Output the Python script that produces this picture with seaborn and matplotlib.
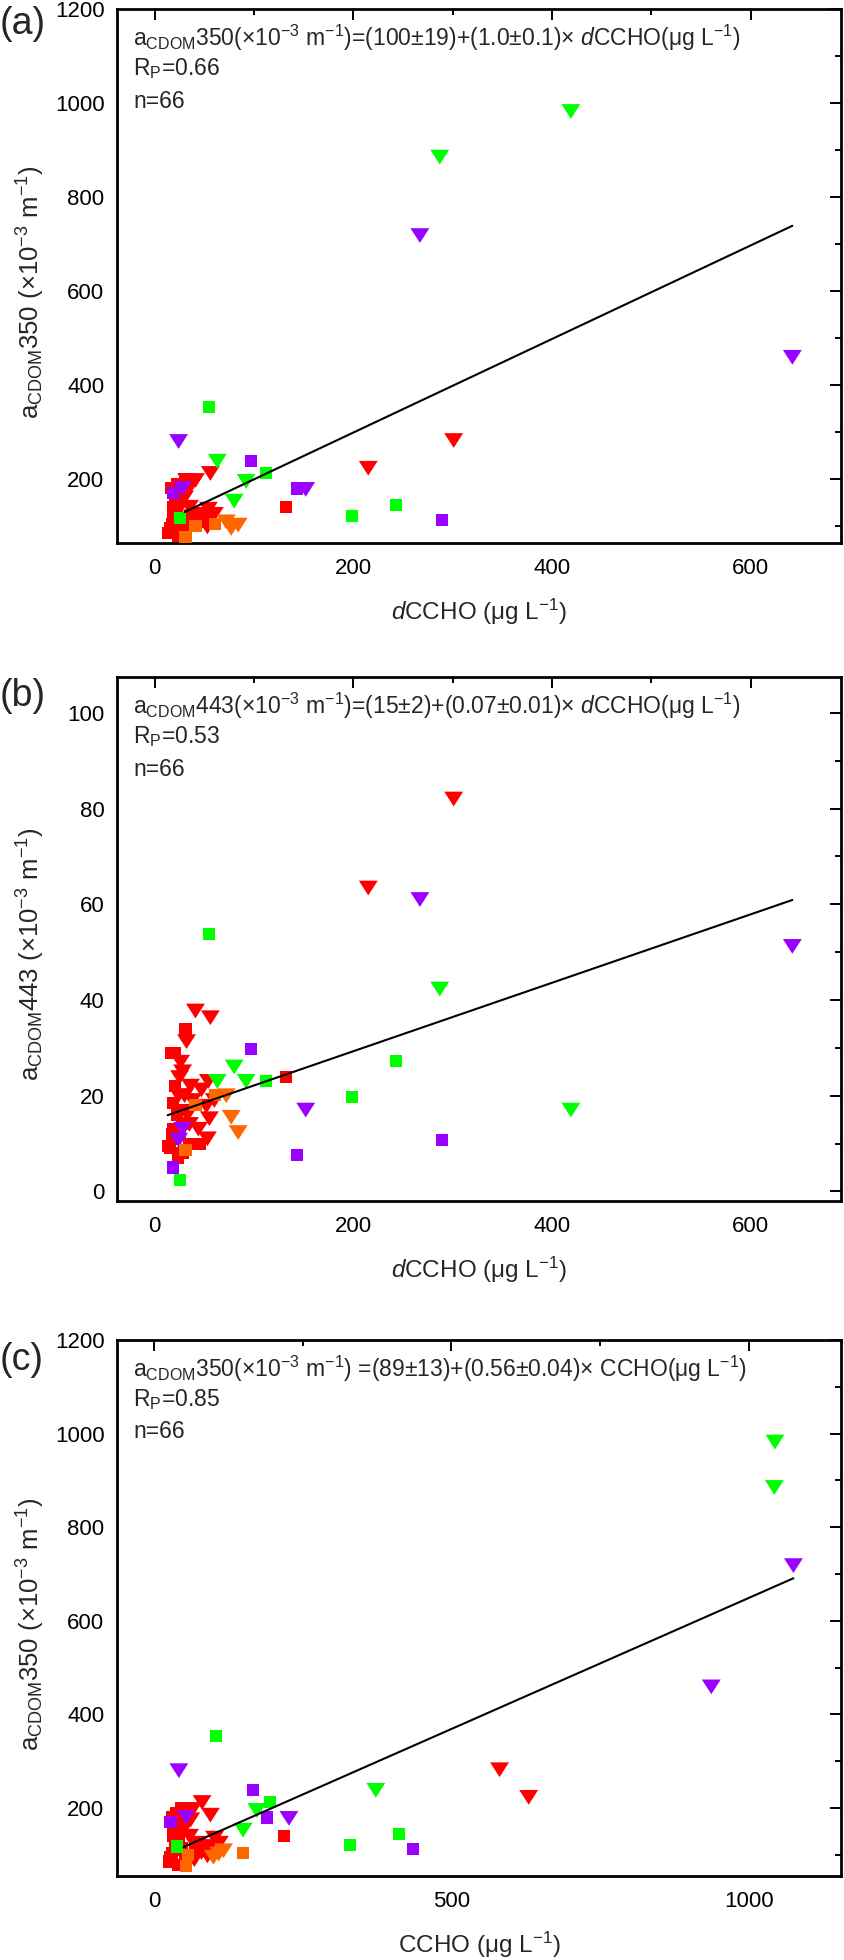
import matplotlib
matplotlib.use("Agg")
import matplotlib.pyplot as plt
from matplotlib.path import Path
from matplotlib.ticker import MultipleLocator
import numpy as np
import pandas as pd
import seaborn as sns

# one row per sample: colour group, marker shape, dCCHO, CCHO, aCDOM350, aCDOM443
colour = (["red"] * 41 + ["purple"] * 9 + ["orange"] * 6 + ["green"] * 10)
shape = (["tri"] * 13 + ["sq"] * 12 + ["sq"] * 8 + ["tri"] * 8
         + ["tri"] * 5 + ["sq"] * 4
         + ["sq"] * 3 + ["tri"] * 3
         + ["tri"] * 5 + ["sq"] * 5)
dccho = [301, 215, 56, 41, 32, 54, 53, 25, 47, 52, 55, 30, 35,
         132, 31, 16, 20, 18, 18, 13, 23, 46, 35, 22, 25,
         15, 20, 27, 17, 28, 22, 19, 30,
         28, 38, 44, 33, 60, 24, 26, 36,
         267, 642, 24, 152, 28,
         97, 289, 143, 18,
         41, 61, 31,
         72, 84, 77,
         419, 287, 63, 92, 80,
         55, 112, 199, 243, 25]
ccho = [581, 630, 81, 65, 57, 102, 90, 45, 75, 85, 95, 50, 60,
        219, 45, 30, 35, 32, 38, 25, 40, 70, 55, 42, 48,
        28, 33, 44, 30, 52, 37, 36, 47,
        62, 70, 80, 68, 110, 43, 50, 95,
        1075, 937, 42, 227, 54,
        166, 435, 190, 28,
        57, 150, 54,
        117, 109, 100,
        1044, 1043, 373, 173, 150,
        105, 195, 329, 412, 39]
a350 = [282, 223, 212, 197, 197, 136, 98, 150, 125, 110, 118, 160, 140,
        141, 200, 181, 162, 140, 120, 86, 79, 109, 100, 130, 110,
        95, 150, 170, 105, 88, 190, 125, 115,
        175, 120, 105, 90, 125, 135, 155, 185,
        718, 459, 280, 178, 180,
        238, 113, 180, 170,
        100, 105, 76,
        109, 102, 95,
        982, 885, 238, 195, 153,
        354, 213, 122, 145, 118]
a443 = [82, 63.4, 36.3, 37.7, 31.3, 23, 11, 23.8, 21.2, 17.8, 15.2, 20, 14,
        24, 34, 29, 29, 18.5, 13, 9.5, 7, 10, 10, 16, 12,
        9, 22, 14, 12, 8, 16, 11, 17,
        25, 19, 13, 16, 19, 20, 27, 22,
        61, 51.2, 10.7, 17, 13,
        29.8, 10.7, 7.7, 5,
        18, 20.2, 8.6,
        20, 12.3, 15.5,
        17, 42.3, 23, 23, 26,
        53.8, 23, 19.8, 27.2, 2.3]

# fitted lines as printed on the panels: intercept, slope, x-range of the line
fit_a = (100, 0.995, [30, 642])
fit_b = (15, 0.0715, [13, 642])
fit_c = (89, 0.56, [50, 1075])

eq_a = r"a$_{\mathrm{CDOM}}$350(×10$^{-3}$ m$^{-1}$)=(100±19)+(1.0±0.1)× $d$CCHO(μg L$^{-1}$)"
eq_b = r"a$_{\mathrm{CDOM}}$443(×10$^{-3}$ m$^{-1}$)=(15±2)+(0.07±0.01)× $d$CCHO(μg L$^{-1}$)"
eq_c = r"a$_{\mathrm{CDOM}}$350(×10$^{-3}$ m$^{-1}$) =(89±13)+(0.56±0.04)× CCHO(μg L$^{-1}$)"
rp = ["0.66", "0.53", "0.85"]

df = pd.DataFrame({"colour": colour, "shape": shape, "dCCHO": dccho,
                   "CCHO": ccho, "a350": a350, "a443": a443})

palette = {"red": "#FF0000", "purple": "#9900FF", "orange": "#FF6600", "green": "#00FF00"}
# Origin-style down triangle: wider than tall
wide_tri = Path([(-1, 0.78), (1, 0.78), (0, -0.78), (-1, 0.78)],
                [Path.MOVETO, Path.LINETO, Path.LINETO, Path.CLOSEPOLY])
markers = {"sq": "s", "tri": wide_tri}
sizes = {"sq": 76, "tri": 185}

sns.set_theme(style="white")
plt.rcParams["font.family"] = ["Liberation Sans", "DejaVu Sans"]
plt.rcParams["mathtext.fontset"] = "custom"
plt.rcParams["mathtext.rm"] = "Liberation Sans"
plt.rcParams["mathtext.it"] = "Liberation Sans:italic"
plt.rcParams["mathtext.bf"] = "Liberation Sans:bold"

W, H = 844, 1960
fig = plt.figure(figsize=(W / 100, H / 100), dpi=100)


def px_axes(top, bottom, left=117, right=841):
    return fig.add_axes([left / W, 1 - bottom / H, (right - left) / W, (bottom - top) / H])


panels = [
    dict(top=9, bottom=543, x="dCCHO", y="a350", fit=fit_a, eq=eq_a, rp=rp[0], tag="(a)", tagy=24,
         xlim=(-38, 691), ylim=(64, 1200), xmaj=200, xmin=100, ymaj=200, ymin=100,
         xlabel=r"$d$CCHO (μg L$^{-1}$)", ylabel=r"a$_{\mathrm{CDOM}}$350 (×10$^{-3}$ m$^{-1}$)"),
    dict(top=677, bottom=1201, x="dCCHO", y="a443", fit=fit_b, eq=eq_b, rp=rp[1], tag="(b)", tagy=696,
         xlim=(-38, 691), ylim=(-2, 107.5), xmaj=200, xmin=100, ymaj=20, ymin=10,
         xlabel=r"$d$CCHO (μg L$^{-1}$)", ylabel=r"a$_{\mathrm{CDOM}}$443 (×10$^{-3}$ m$^{-1}$)"),
    dict(top=1340, bottom=1876, x="CCHO", y="a350", fit=fit_c, eq=eq_c, rp=rp[2], tag="(c)", tagy=1360,
         xlim=(-62, 1155), ylim=(55, 1200), xmaj=500, xmin=250, ymaj=200, ymin=100,
         xlabel=r"CCHO (μg L$^{-1}$)", ylabel=r"a$_{\mathrm{CDOM}}$350 (×10$^{-3}$ m$^{-1}$)"),
]

for p in panels:
    ax = px_axes(p["top"], p["bottom"])
    sns.scatterplot(data=df, x=p["x"], y=p["y"], hue="colour", style="shape", size="shape",
                    palette=palette, markers=markers, sizes=sizes, linewidth=0,
                    legend=False, ax=ax, zorder=3)
    b0, b1, xr = p["fit"]
    xr = np.array(xr, dtype=float)
    sns.lineplot(x=xr, y=b0 + b1 * xr, color="black", linewidth=1.5, ax=ax, zorder=4)

    ax.set_xlim(*p["xlim"])
    ax.set_ylim(*p["ylim"])
    ax.xaxis.set_major_locator(MultipleLocator(p["xmaj"]))
    ax.xaxis.set_minor_locator(MultipleLocator(p["xmin"]))
    ax.yaxis.set_major_locator(MultipleLocator(p["ymaj"]))
    ax.yaxis.set_minor_locator(MultipleLocator(p["ymin"]))
    ax.tick_params(which="both", direction="in", top=True, right=True, width=1.4,
                   labelsize=16, color="black", labelcolor="black")
    ax.tick_params(which="major", length=8)
    ax.tick_params(which="minor", length=4.5)
    ax.tick_params(axis="x", pad=11)
    ax.tick_params(axis="y", pad=9)
    for s in ax.spines.values():
        s.set_linewidth(2)
        s.set_color("black")

    h = p["bottom"] - p["top"]
    ax.set_xlabel(p["xlabel"], fontsize=17.5, va="center")
    ax.xaxis.set_label_coords(0.5, -69 / h)
    ax.set_ylabel(p["ylabel"], fontsize=18.5, va="center")
    ax.yaxis.set_label_coords(-86 / 724, 0.47)

    fig.text(133 / W, 1 - (p["top"] + 29) / H, p["eq"], fontsize=16.5, va="center", ha="left")
    fig.text(133 / W, 1 - (p["top"] + 60) / H, r"R$_{\mathrm{P}}$=" + p["rp"], fontsize=16.5,
             va="center", ha="left")
    fig.text(133 / W, 1 - (p["top"] + 92) / H, "n=66", fontsize=16.5, va="center", ha="left")
    fig.text(0.0, 1 - p["tagy"] / H, p["tag"], fontsize=27, va="center", ha="left")

fig.savefig("out.png", dpi=100)
